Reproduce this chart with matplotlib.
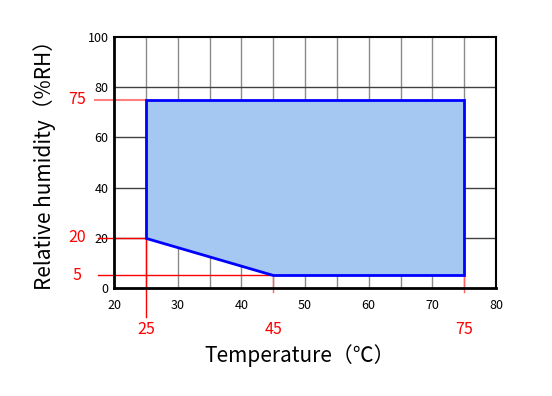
import matplotlib
matplotlib.use("Agg")
import matplotlib.pyplot as plt
from matplotlib.patches import Polygon

plt.rcParams['font.family'] = ['Noto Sans CJK JP', 'DejaVu Sans']

# Data
temp_pts = [25, 25, 75, 75, 45]
rh_pts = [20, 75, 75, 5, 5]
x_ticks = [20, 30, 40, 50, 60, 70, 80]
y_ticks = [0, 20, 40, 60, 80, 100]
x_marks = [25, 45, 75]
y_marks = [75, 20, 5]
x_label = "Temperature（℃）"
y_label = "Relative humidity（%RH）"

fig = plt.figure(figsize=(5.52, 3.96), dpi=100)
ax = fig.add_axes([114/552, 1-288/396, 382/552, 251/396])
ax.set_xlim(20, 80)
ax.set_ylim(0, 100)

# grid
for gx in range(25, 80, 5):
    ax.axvline(gx, color='#8a8a8a', lw=1, zorder=1)
for gy in [20, 40, 60, 80]:
    ax.axhline(gy, color='#404040', lw=1, zorder=1)

poly = Polygon(list(zip(temp_pts, rh_pts)), closed=True, facecolor='#A4C8F2',
               edgecolor='#0000FF', lw=2, zorder=3)
ax.add_patch(poly)

# red reference lines
red = '#FF0000'
ax.plot([17.0, 25], [75, 75], color='#FF8080', lw=1.5, clip_on=False, zorder=2)
ax.plot([17.5, 25], [20, 20], color=red, lw=1, clip_on=False, zorder=2)
ax.plot([17.5, 45], [5, 5], color=red, lw=1, clip_on=False, zorder=2)
ax.plot([25, 25], [20, -11.5], color=red, lw=1, clip_on=False, zorder=2)
ax.plot([45, 45], [5, -1.5], color='#FF6060', lw=1, clip_on=False, zorder=2)
ax.plot([75, 75], [5, -1.5], color='#FF6060', lw=1, clip_on=False, zorder=2)

for v in y_marks:
    ax.text(14.2, v, str(v), color=red, fontsize=11.5, ha='center', va='center',
            clip_on=False)
for v in x_marks:
    ax.text(v, -16.5, str(v), color=red, fontsize=11.5, ha='center', va='center',
            clip_on=False)

ax.set_xticks(x_ticks)
ax.set_yticks(y_ticks)
ax.tick_params(length=0, labelsize=9, pad=4)
ax.tick_params(axis='x', pad=8)

for s in ['left', 'bottom']:
    ax.spines[s].set_linewidth(2)
for s in ['top', 'right']:
    ax.spines[s].set_linewidth(1.5)
for s in ax.spines.values():
    s.set_zorder(5)

fig.text(45/552, 1-160/396, y_label, rotation=90, fontsize=15,
         ha='center', va='center')
fig.text(300/552, 1-356/396, x_label, fontsize=15, ha='center', va='center')

fig.savefig("out.png", dpi=100)
